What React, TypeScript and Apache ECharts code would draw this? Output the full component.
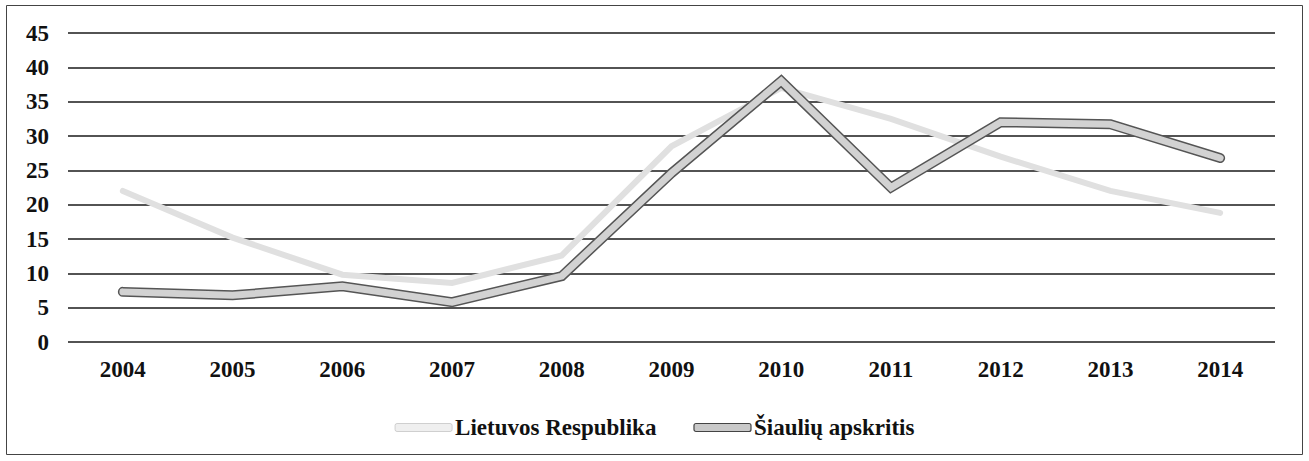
import React, { useEffect, useRef } from "react";
import * as echarts from "echarts";

const years = ["2004", "2005", "2006", "2007", "2008", "2009", "2010", "2011", "2012", "2013", "2014"];
const lietuvos = [22, 15.2, 9.8, 8.6, 12.6, 28.5, 37, 32.5, 27, 22, 18.8];
const siauliu = [7.3, 6.8, 8.1, 5.8, 9.6, 24.6, 38, 22.5, 32, 31.7, 26.8];
const yTicks = { min: 0, max: 45, interval: 5 };

const FONT = "'Liberation Serif', 'Times New Roman', serif";

export default function App() {
  const ref = useRef<HTMLDivElement>(null);
  useEffect(() => {
    if (!ref.current) return;
    const chart = echarts.init(ref.current, null, { renderer: "svg" });
    chart.setOption({
      animation: false,
      backgroundColor: "#ffffff",
      graphic: [
        {
          type: "rect",
          shape: { x: 6.5, y: 5.5, width: 1296, height: 449 },
          style: { fill: "none", stroke: "#444", lineWidth: 1 },
          silent: true,
        },
      ],
      grid: { left: 68, right: 34, top: 33, bottom: 119 },
      legend: {
        left: "center",
        top: 411,
        itemWidth: 57,
        itemHeight: 8,
        itemGap: 37,
        textStyle: { fontFamily: FONT, fontWeight: "bold", fontSize: 23, color: "#111", padding: [0, 0, 0, -2] },
        data: [
          {
            name: "Lietuvos Respublika",
            icon: "roundRect",
            itemStyle: { color: "#efefef", borderColor: "#cfcfcf", borderWidth: 1 },
          },
          {
            name: "Šiaulių apskritis",
            icon: "roundRect",
            itemStyle: { color: "#c9c9c9", borderColor: "#444", borderWidth: 1.2 },
          },
        ],
      },
      xAxis: {
        type: "category",
        data: years,
        boundaryGap: true,
        axisLine: { show: false },
        axisTick: { show: false },
        axisLabel: {
          margin: 16,
          fontFamily: FONT,
          fontWeight: "bold",
          fontSize: 23,
          color: "#111",
        },
      },
      yAxis: {
        type: "value",
        min: yTicks.min,
        max: yTicks.max,
        interval: yTicks.interval,
        axisLine: { show: false },
        axisTick: { show: false },
        splitLine: { show: true, lineStyle: { color: "#1a1a1a", width: 1.7 } },
        axisLabel: {
          margin: 19,
          fontFamily: FONT,
          fontWeight: "bold",
          fontSize: 23,
          color: "#111",
        },
      },
      series: [
        {
          name: "Lietuvos Respublika",
          type: "line",
          data: lietuvos,
          symbol: "none",
          lineStyle: { color: "#e0e0e0", width: 6, cap: "round", join: "miter" },
          itemStyle: { color: "#e0e0e0" },
          z: 2,
        },
        {
          name: "Šiaulių apskritis",
          type: "line",
          data: siauliu,
          symbol: "none",
          lineStyle: { color: "#555555", width: 10, cap: "round", join: "miter" },
          itemStyle: { color: "#c9c9c9" },
          z: 3,
        },
        {
          name: "Šiaulių apskritis",
          type: "line",
          data: siauliu,
          symbol: "none",
          lineStyle: { color: "#d2d2d2", width: 7, cap: "round", join: "miter" },
          itemStyle: { color: "#c9c9c9" },
          z: 4,
        },
      ],
    });
    return () => chart.dispose();
  }, []);
  return (
    <div
      ref={ref}
      style={{ position: "absolute", left: 0, top: 0, width: 1309, height: 461 }}
    />
  );
}
